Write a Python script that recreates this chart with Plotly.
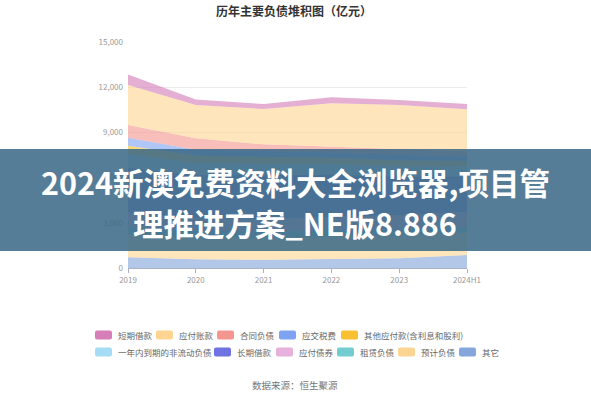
import plotly.graph_objects as go

# ---------------- data ----------------
years = ["2019", "2020", "2021", "2022", "2023", "2024H1"]

series_names = ["短期借款", "应付账款", "合同负债", "应交税费", "其他应付款(含利息和股利)",
                "一年内到期的非流动负债", "长期借款", "应付债券", "租赁负债", "预计负债", "其它"]

short_loans      = [700, 365, 330, 400, 335, 350]
accounts_payable = [2650, 2210, 2340, 2880, 2950, 2800]
contract_liab    = [840, 750, 450, 380, 350, 330]
taxes_payable    = [530, 380, 390, 350, 365, 290]
other_payables   = [560, 500, 450, 420, 400, 380]
current_ltd      = [900, 800, 750, 700, 680, 650]
long_loans       = [3000, 2900, 2900, 2800, 2550, 2350]
bonds_payable    = [900, 800, 850, 900, 950, 1000]
lease_liab       = [500, 450, 420, 400, 380, 370]
provisions       = [1550, 1450, 1450, 1500, 1550, 1500]
others           = [710, 575, 550, 600, 640, 860]

series_values = [short_loans, accounts_payable, contract_liab, taxes_payable, other_payables,
                 current_ltd, long_loans, bonds_payable, lease_liab, provisions, others]

colors = ["#d57eb8", "#ffd591", "#f4968f", "#7ea3f2", "#f9c031",
          "#a6dcf6", "#6f72e1", "#e8b1dc", "#72cdd0", "#fdd592", "#85a6dc"]

y_ticks = [0, 3000, 6000, 9000, 12000, 15000]

# ---------------- layout constants ----------------
W, H = 591, 400
L, R, T, B = 128, 467, 42, 268
FONT = "Noto Sans CJK SC"


def px(x):
    return (x - L) / (R - L)


def py(y):
    return (B - y) / (B - T)


def rgba(hexc, a):
    hexc = hexc.lstrip("#")
    r, g, b = int(hexc[0:2], 16), int(hexc[2:4], 16), int(hexc[4:6], 16)
    return f"rgba({r},{g},{b},{a})"


fig = go.Figure()

# stack: first listed series ends on top -> add in reverse order
for name, vals, col in reversed(list(zip(series_names, series_values, colors))):
    fig.add_trace(go.Scatter(
        x=years, y=vals, name=name, mode="lines", stackgroup="one",
        line=dict(width=0, color=col), fillcolor=rgba(col, 0.62),
        showlegend=False, hoverinfo="x+y+name"))

fig.update_layout(
    width=W, height=H,
    margin=dict(l=L, r=W - R, t=T, b=H - B, pad=0),
    paper_bgcolor="white", plot_bgcolor="white",
    font=dict(family=FONT, size=8, color="#999999"),
    xaxis=dict(type="category", range=[0, len(years) - 1], showgrid=False,
               showline=True, linecolor="#a9b1c4", linewidth=1,
               ticks="outside", ticklen=4, tickcolor="#a9b1c4",
               tickfont=dict(size=8, color="#999999", family=FONT), fixedrange=True),
    yaxis=dict(range=[0, 15000], tickvals=y_ticks, tickformat=",", showgrid=True,
               gridcolor="#ececec", gridwidth=1, zeroline=False, showline=False,
               ticks="", ticklabelstandoff=4,
               tickfont=dict(size=8, color="#999999", family=FONT), fixedrange=True),
)

shapes = []
annotations = []

# title
annotations.append(dict(text="<b>历年主要负债堆积图（亿元）</b>", x=px(294), y=py(10),
                        xref="paper", yref="paper", showarrow=False, xanchor="center",
                        yanchor="middle", font=dict(size=12, color="#333333", family=FONT)))

# manual legend
legend_rows = [[0, 1, 2, 3, 4], [5, 6, 7, 8, 9, 10]]
legend_x = [[95, 156, 217, 279, 341], [95, 214, 276, 337, 398, 459]]
legend_y = [335, 352]
sw, sh, rad = 17, 9, 2
for row, xs, yc in zip(legend_rows, legend_x, legend_y):
    for idx, x0 in zip(row, xs):
        x1 = x0 + sw
        y0, y1 = yc - sh / 2, yc + sh / 2
        path = (f"M {px(x0 + rad)},{py(y0)} L {px(x1 - rad)},{py(y0)} "
                f"Q {px(x1)},{py(y0)} {px(x1)},{py(y0 + rad)} "
                f"L {px(x1)},{py(y1 - rad)} Q {px(x1)},{py(y1)} {px(x1 - rad)},{py(y1)} "
                f"L {px(x0 + rad)},{py(y1)} Q {px(x0)},{py(y1)} {px(x0)},{py(y1 - rad)} "
                f"L {px(x0)},{py(y0 + rad)} Q {px(x0)},{py(y0)} {px(x0 + rad)},{py(y0)} Z")
        shapes.append(dict(type="path", path=path, xref="paper", yref="paper",
                           fillcolor=colors[idx], line=dict(width=0), layer="above"))
        annotations.append(dict(text=series_names[idx], x=px(x1 + 4), y=py(yc),
                                xref="paper", yref="paper", showarrow=False,
                                xanchor="left", yanchor="middle",
                                font=dict(size=8.5, color="#666666", family=FONT)))

# source
annotations.append(dict(text="数据来源：恒生聚源", x=px(295), y=py(385), xref="paper",
                        yref="paper", showarrow=False, xanchor="center", yanchor="middle",
                        font=dict(size=9.5, color="#777777", family=FONT)))

# overlay banner
shapes.append(dict(type="rect", xref="paper", yref="paper", x0=px(0), x1=px(W),
                   y0=py(149), y1=py(251), fillcolor="rgba(58,104,134,0.86)",
                   line=dict(width=0), layer="above"))
annotations.append(dict(text="<b>2024新澳免费资料大全浏览器,项目管</b>", x=px(295), y=py(182),
                        xref="paper", yref="paper", showarrow=False, xanchor="center",
                        yanchor="middle", font=dict(size=30.5, color="white", family=FONT)))
annotations.append(dict(text="<b>理推进方案_NE版8.886</b>", x=px(295), y=py(223),
                        xref="paper", yref="paper", showarrow=False, xanchor="center",
                        yanchor="middle", font=dict(size=30.5, color="white", family=FONT)))

fig.update_layout(shapes=shapes, annotations=annotations)

fig.write_html("out.html", config={"displayModeBar": False, "staticPlot": True})

# remove the default page margin so the figure sits at the window's top-left corner
with open("out.html", "r", encoding="utf-8") as f:
    html = f.read()
html = html.replace("<body>", '<body style="margin:0;padding:0;">', 1)
with open("out.html", "w", encoding="utf-8") as f:
    f.write(html)
